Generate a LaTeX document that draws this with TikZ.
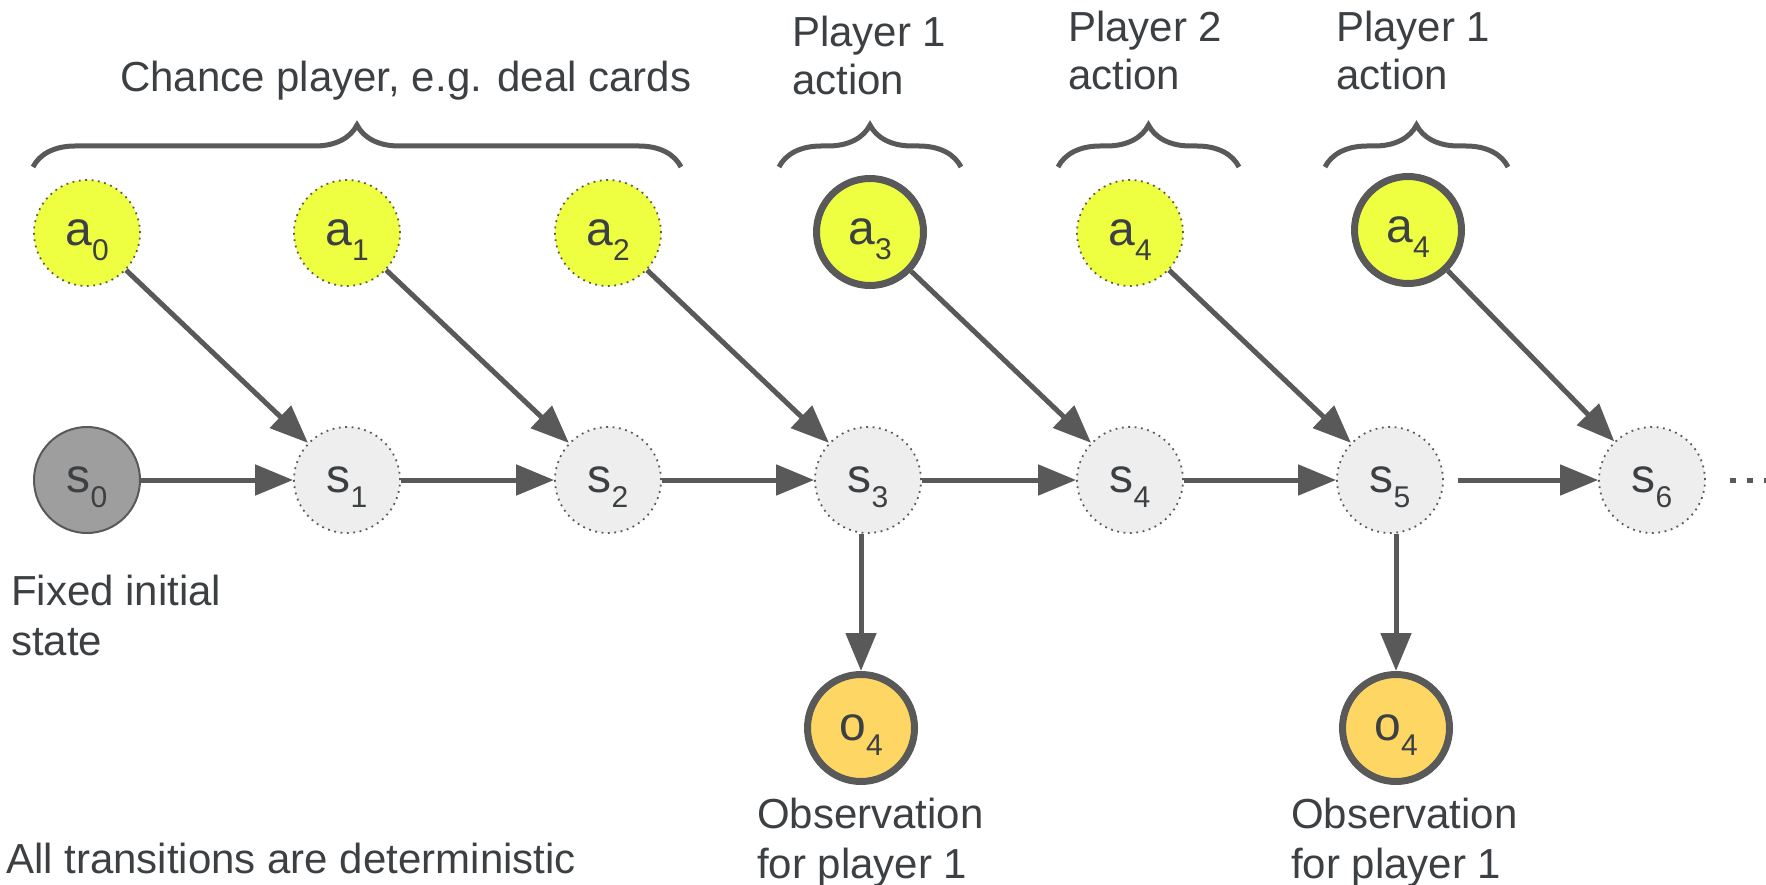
\documentclass[tikz,border=0pt]{standalone}
\usepackage{fontspec}
\setmainfont{Liberation Sans}
\usetikzlibrary{arrows.meta,decorations.pathreplacing}

\definecolor{edgegray}{HTML}{595959}
\definecolor{txtgray}{HTML}{3C4043}
\definecolor{limefill}{HTML}{EEFF41}
\definecolor{statefill}{HTML}{EEEEEE}
\definecolor{initfill}{HTML}{9E9E9E}
\definecolor{obsfill}{HTML}{FDD663}

% letter with a lowered index that does not change the box depth
\newcommand\lowsub[2]{#1\raisebox{-15pt}[0pt][0pt]{\fontsize{30}{30}\selectfont #2}}

\begin{document}
\begin{tikzpicture}[x=1pt,y=-1pt,
  circ/.style={circle, inner sep=0pt, minimum size=106pt, text=txtgray,
    font=\fontsize{48}{48}\selectfont},
  dotborder/.style={draw=edgegray, line width=1.8pt, dash pattern=on 1.8pt off 4.6pt},
  thickborder/.style={draw=edgegray, line width=7pt, minimum size=107pt},
  chanceact/.style={circ, fill=limefill, dotborder},
  playeract/.style={circ, fill=limefill, thickborder},
  statenode/.style={circ, fill=statefill, dotborder},
  initnode/.style={circ, fill=initfill, draw=edgegray, line width=2pt},
  obsnode/.style={circ, fill=obsfill, thickborder},
  arr/.style={draw=edgegray, line width=5pt, -{Triangle[length=38pt,width=30pt]}},
  grp/.style={draw=edgegray, line width=5pt,
    decorate, decoration={brace, amplitude=42pt}},
  lbl/.style={anchor=base west, inner sep=0pt, text=txtgray,
    font=\fontsize{42}{50}\selectfont},
]
\useasboundingbox (0,0) rectangle (1766,885);

% action nodes
\node[chanceact] (a0) at (87,233) {\lowsub{a}{0}};
\node[chanceact] (a1) at (347,233) {\lowsub{a}{1}};
\node[chanceact] (a2) at (608,233) {\lowsub{a}{2}};
\node[playeract] (a3) at (870,232) {\lowsub{a}{3}};
\node[chanceact] (a4) at (1130,233) {\lowsub{a}{4}};
\node[playeract] (a5) at (1408,230) {\lowsub{a}{4}};

% state chain
\node[initnode] (s0) at (87,480) {\lowsub{s}{0}};
\node[statenode] (s1) at (347,480) {\lowsub{s}{1}};
\node[statenode] (s2) at (608,480) {\lowsub{s}{2}};
\node[statenode] (s3) at (868,480) {\lowsub{s}{3}};
\node[statenode] (s4) at (1130,480) {\lowsub{s}{4}};
\node[statenode] (s5) at (1390,480) {\lowsub{s}{5}};
\node[statenode] (s6) at (1652,480) {\lowsub{s}{6}};
% the chain goes on past the last state
\draw[edgegray, line width=5pt, dash pattern=on 6pt off 11pt]
  ([xshift=24pt]s6.east) -- ++(70,0);

% observations
\node[obsnode] (o1) at (861,728) {\lowsub{o}{4}};
\node[obsnode] (o2) at (1396,728) {\lowsub{o}{4}};

% transitions
\draw[arr] (s0) -- (s1);
\draw[arr] (s1) -- (s2);
\draw[arr] (s2) -- (s3);
\draw[arr] (s3) -- (s4);
\draw[arr] (s4) -- (s5);
\draw[arr, shorten <=14pt] (s5) -- (s6);

\draw[arr] (a0) -- (s1);
\draw[arr] (a1) -- (s2);
\draw[arr] (a2) -- (s3);
\draw[arr] (a3) -- (s4);
\draw[arr] (a4) -- (s5);
\draw[arr] (a5) -- (s6);

\draw[arr] (o1 |- s3.south) -- (o1);
\draw[arr] (o2 |- s5.south) -- (o2);

% groupings of actions
\draw[grp] (33,167) -- (681,167);
\draw[grp] (779,167) -- (961,167);
\draw[grp] (1058,167) -- (1239,167);
\draw[grp] (1325,167) -- (1508,167);

% labels
\node[lbl] (chance) at (120,92) {Chance player, e.g. deal cards};
\node[lbl] (p1top) at (792,47) {Player 1};
\node[lbl] (p1bot) at (792,95) {action};
\node[lbl] (p2top) at (1068,42) {Player 2};
\node[lbl] (p2bot) at (1068,90) {action};
\node[lbl] (p3top) at (1336,42) {Player 1};
\node[lbl] (p3bot) at (1336,90) {action};

\node[lbl] (init1) at (11,605) {Fixed initial};
\node[lbl] (init2) at (11,655) {state};

\node[lbl] (obs1a) at (757,828) {Observation};
\node[lbl] (obs1b) at (757,878) {for player 1};
\node[lbl] (obs2a) at (1291,828) {Observation};
\node[lbl] (obs2b) at (1291,878) {for player 1};

\node[lbl, anchor=base east] (note) at (576,873) {All transitions are deterministic};
\end{tikzpicture}
\end{document}
